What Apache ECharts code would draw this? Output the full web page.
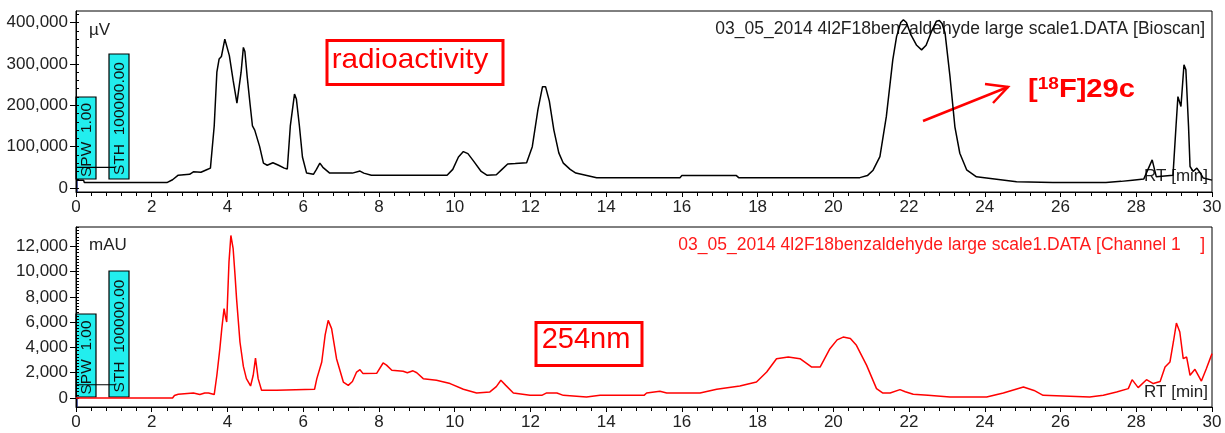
<!DOCTYPE html>
<html>
<head>
<meta charset="utf-8">
<script src="https://cdn.jsdelivr.net/npm/echarts@6/dist/echarts.min.js"></script>
<style>
html,body{margin:0;padding:0;background:#fff;}
#chart{width:1225px;height:433px;}
</style>
</head>
<body>
<div id="chart"></div>
<script>
// ---- Data ----
// Radioactivity trace (Bioscan), retention time in min, signal in µV
const radioT = [0,0.2,0.22,2.4,2.55,2.7,3.0,3.1,3.3,3.45,3.55,3.6,3.65,3.72,3.78,3.84,3.93,3.98,4.05,4.15,4.25,4.3,4.36,4.42,4.46,4.52,4.6,4.66,4.72,4.77,4.85,4.95,5.05,5.2,5.35,5.5,5.58,5.66,5.77,5.82,5.9,5.98,6.09,6.27,6.35,6.44,6.52,6.7,7.3,7.5,7.6,7.8,9.8,9.95,10.1,10.23,10.35,10.5,10.7,10.85,11.1,11.25,11.4,11.6,11.9,12.05,12.2,12.32,12.4,12.5,12.62,12.75,12.87,13.05,13.2,13.75,15.95,16.0,17.44,17.5,20.7,20.9,21.05,21.23,21.4,21.57,21.67,21.78,21.85,21.93,22.05,22.2,22.33,22.45,22.6,22.72,22.8,22.87,22.95,23.08,23.21,23.34,23.52,23.78,24.84,25.8,27.2,27.6,27.9,28.2,28.42,28.53,28.97,29.05,29.1,29.18,29.26,29.31,29.38,29.42,29.5,29.6,29.7,29.77,30];
const radioV = [19000,19000,13000,13000,20000,31000,33000,39000,38000,44000,48000,48000,150000,280000,312000,318000,360000,356000,320000,260000,205000,203000,280000,340000,330000,270000,200000,150000,140000,136000,100000,60000,55000,61000,55000,48000,46000,150000,227000,215000,150000,75000,36000,33000,45000,60000,50000,36000,36000,41000,36000,31000,31000,45000,75000,88000,83000,65000,40000,31000,32000,45000,58000,59000,61000,100000,190000,245000,245000,210000,140000,85000,60000,45000,36000,25000,25000,30000,30000,25000,25000,30000,43000,76000,173000,310000,366000,400000,407000,400000,370000,345000,334000,345000,380000,403000,405000,398000,375000,270000,148000,84000,44000,27000,15000,13000,13000,16000,19000,22000,68000,27000,31000,150000,221000,197000,298000,286000,150000,52000,40000,48000,35000,24000,19000];

// UV trace (Channel 1, 254 nm), retention time in min, signal in mAU
const uvT = [0,2.55,2.6,2.7,3.1,3.27,3.4,3.5,3.55,3.65,3.72,3.8,3.85,3.91,3.95,3.98,4.04,4.09,4.12,4.15,4.2,4.24,4.33,4.42,4.5,4.61,4.68,4.74,4.78,4.81,4.9,5.3,5.35,6.3,6.36,6.49,6.58,6.66,6.75,6.88,7.06,7.19,7.3,7.41,7.5,7.58,7.94,8.11,8.2,8.34,8.64,8.75,8.9,9.0,9.17,9.52,9.88,10.23,10.58,10.93,11.1,11.22,11.35,11.55,11.99,12.3,12.43,12.7,12.87,13.48,13.84,15.0,15.07,15.42,15.6,16.48,16.92,17.53,17.97,18.24,18.5,18.81,19.12,19.43,19.65,19.91,20.1,20.26,20.45,20.61,20.88,21.14,21.3,21.5,21.76,21.9,22.11,22.5,23.08,24.05,24.49,25.02,25.3,25.54,26.77,27.13,27.48,27.79,27.89,28.05,28.27,28.45,28.63,28.76,28.89,28.98,29.06,29.15,29.24,29.33,29.42,29.55,29.72,29.85,30];
const uvV = [0,0,200,290,400,270,400,400,270,270,1800,3930,5490,7070,6400,6010,10750,12860,12900,11810,9700,7860,4430,2500,1530,950,1800,3160,3100,1530,610,610,690,690,1530,2850,5000,6140,5490,3110,1260,1000,1300,2055,2240,1930,1950,2770,2600,2190,2110,2000,2150,2000,1530,1400,1140,690,400,480,900,1400,1000,400,210,210,400,400,210,80,210,210,400,530,400,400,690,950,1260,2060,3110,3240,3110,2450,2450,3900,4600,4820,4700,4170,2580,740,400,400,660,500,290,210,80,80,400,870,600,210,80,210,480,740,1450,820,1450,1140,1300,2450,2850,4430,5930,5220,3110,3240,1800,2270,1340,2320,3510];

// Threshold markers (STH lines) drawn by the software at the left
const threshT = [0, 1.03];
const threshRadio = 50000;
const threshUV = 1050;

// Axis ranges and tick labels
const xRange = {min: 0, max: 30, interval: 2};
const radioRange = {min: -9700, max: 428000};
const radioTicks = [0, 100000, 200000, 300000, 400000];
const radioMinorStep = 20000;
const uvRange = {min: -712, max: 13527};
const uvTicks = [0, 2000, 4000, 6000, 8000, 10000, 12000];
const uvMinorStep = 250;

// Texts
const titleRadio = '03_05_2014 4l2F18benzaldehyde large scale1.DATA [Bioscan]';
const titleUV = '03_05_2014 4l2F18benzaldehyde large scale1.DATA [Channel 1    ]';

// ---- Build ----
const zip = (t, v) => t.map((x, i) => [x, v[i]]);
const FONT = 'Liberation Sans, Arial, sans-serif';
const TXT = '#222';

function steps(lo, hi, step) {
  const out = [];
  for (let v = lo; v <= hi + 1e-9; v += step) out.push(Math.round(v * 1000) / 1000);
  return out;
}

function xAxis(grid) {
  return {
    gridIndex: grid, type: 'value', min: xRange.min, max: xRange.max, interval: xRange.interval,
    axisLine: {show: true, onZero: false, lineStyle: {color: '#000', width: 1}},
    axisTick: {show: true, length: 5, lineStyle: {color: '#000'}},
    minorTick: {show: true, splitNumber: 5, length: 4, lineStyle: {color: '#000'}},
    splitLine: {show: false},
    axisLabel: {fontSize: 17, color: TXT, margin: 7, fontFamily: FONT}
  };
}
function yMain(grid, range, ticks) {
  return {
    gridIndex: grid, type: 'value', min: range.min, max: range.max,
    axisLine: {show: true, onZero: false, lineStyle: {color: '#000', width: 1}},
    axisTick: {show: true, length: 6, customValues: ticks, lineStyle: {color: '#000'}},
    minorTick: {show: false},
    splitLine: {show: false},
    axisLabel: {fontSize: 17, color: TXT, margin: 8, fontFamily: FONT, customValues: ticks,
      formatter: v => Number(v).toLocaleString('en-US')}
  };
}
function yMinor(grid, range, minorTicks) {
  return {
    gridIndex: grid, type: 'value', min: range.min, max: range.max,
    axisLine: {show: false},
    axisTick: {show: true, length: 3, customValues: minorTicks, lineStyle: {color: '#000'}},
    splitLine: {show: false},
    axisLabel: {show: false}
  };
}

function cyanBox(x, yTop, yBot, label, fs) {
  return {
    type: 'group', children: [
      {type: 'rect', shape: {x: x, y: yTop, width: 20, height: yBot - yTop},
       style: {fill: '#22eeee', stroke: '#000', lineWidth: 1.2}},
      {type: 'text', x: x + 10.5, y: (yTop + yBot) / 2 + 2, rotation: Math.PI / 2,
       style: {text: label, fill: '#111', fontSize: fs, fontFamily: FONT, align: 'center', verticalAlign: 'middle'}}
    ]
  };
}

const chart = echarts.init(document.getElementById('chart'), null, {renderer: 'canvas'});
chart.setOption({
  animation: false,
  backgroundColor: '#fff',
  grid: [
    {left: 76, right: 13, top: 11, height: 181, show: true, borderColor: '#000', borderWidth: 1, backgroundColor: 'transparent'},
    {left: 76, right: 13, top: 227, height: 180, show: true, borderColor: '#000', borderWidth: 1, backgroundColor: 'transparent'}
  ],
  xAxis: [xAxis(0), xAxis(1)],
  yAxis: [
    yMain(0, radioRange, radioTicks),
    yMinor(0, radioRange, steps(0, radioRange.max, radioMinorStep)),
    yMain(1, uvRange, uvTicks),
    yMinor(1, uvRange, steps(0, uvRange.max, uvMinorStep))
  ],
  series: [
    {type: 'line', xAxisIndex: 0, yAxisIndex: 0, data: zip(radioT, radioV), showSymbol: false,
     lineStyle: {color: '#000', width: 1.5}, z: 3},
    {type: 'line', xAxisIndex: 1, yAxisIndex: 2, data: zip(uvT, uvV), showSymbol: false,
     lineStyle: {color: '#ff0000', width: 1.5}, z: 3},
    {type: 'line', xAxisIndex: 0, yAxisIndex: 0, data: threshT.map(t => [t, threshRadio]), showSymbol: false,
     lineStyle: {color: '#000', width: 1.2}, z: 10},
    {type: 'line', xAxisIndex: 1, yAxisIndex: 2, data: threshT.map(t => [t, threshUV]), showSymbol: false,
     lineStyle: {color: '#000', width: 1.2}, z: 10}
  ],
  graphic: [
    cyanBox(76, 97, 179, 'SPW  1.00', 15.5),
    cyanBox(109, 54, 179, 'STH  100000.00', 15.5),
    cyanBox(76, 314, 397, 'SPW  1.00', 15.5),
    cyanBox(109, 271, 397, 'STH  100000.00', 15.5),
    {type: 'line', shape: {x1: 77, y1: 180, x2: 77, y2: 192}, style: {stroke: '#1a2a8a', lineWidth: 1.5}},
    {type: 'line', shape: {x1: 77, y1: 397, x2: 77, y2: 407}, style: {stroke: '#1a2a8a', lineWidth: 1.5}},
    {type: 'text', x: 89, y: 30, style: {text: 'µV', fill: TXT, fontSize: 17, fontFamily: FONT, verticalAlign: 'middle'}},
    {type: 'text', x: 89, y: 245, style: {text: 'mAU', fill: TXT, fontSize: 17, fontFamily: FONT, verticalAlign: 'middle'}},
    {type: 'text', x: 1205, y: 29, style: {text: titleRadio, fill: TXT, fontSize: 17.5, fontFamily: FONT, align: 'right', verticalAlign: 'middle'}},
    {type: 'text', x: 1205, y: 245, style: {text: titleUV, fill: '#ff1a1a', fontSize: 17.5, fontFamily: FONT, align: 'right', verticalAlign: 'middle'}},
    {type: 'text', x: 1208, y: 176, style: {text: 'RT [min]', fill: TXT, fontSize: 17, fontFamily: FONT, align: 'right', verticalAlign: 'middle'}},
    {type: 'text', x: 1208, y: 392, style: {text: 'RT [min]', fill: TXT, fontSize: 17, fontFamily: FONT, align: 'right', verticalAlign: 'middle'}},
    // red annotation boxes
    {type: 'rect', shape: {x: 327, y: 40.5, width: 176, height: 44}, style: {fill: 'transparent', stroke: '#ff0000', lineWidth: 3}},
    {type: 'text', x: 410, y: 60, scaleX: 1.06, style: {text: 'radioactivity', fill: '#ff0000', fontSize: 28, fontFamily: FONT, align: 'center', verticalAlign: 'middle'}},
    {type: 'rect', shape: {x: 536, y: 322.5, width: 106, height: 43}, style: {fill: 'transparent', stroke: '#ff0000', lineWidth: 3}},
    {type: 'text', x: 586, y: 340, style: {text: '254nm', fill: '#ff0000', fontSize: 29, fontFamily: FONT, align: 'center', verticalAlign: 'middle'}},
    // compound label with superscript
    {type: 'text', x: 1028, y: 90, scaleX: 1.12, style: {
      text: '{a|[}{s|18}{a|F]29c}', fill: '#ff0000', fontFamily: FONT,
      rich: {a: {fontSize: 26, fontWeight: 'bold', fill: '#ff0000', fontFamily: FONT},
             s: {fontSize: 17, fontWeight: 'bold', fill: '#ff0000', fontFamily: FONT, padding: [0, 0, 11, 0]}},
      align: 'left', verticalAlign: 'middle'}},
    // arrow
    {type: 'line', shape: {x1: 923, y1: 121, x2: 1008, y2: 87}, style: {stroke: '#ff0000', lineWidth: 2.5}},
    {type: 'polyline', shape: {points: [[985, 84], [1008, 87], [993, 103]]}, style: {stroke: '#ff0000', lineWidth: 2.5, fill: null}}
  ]
});
</script>
</body>
</html>
